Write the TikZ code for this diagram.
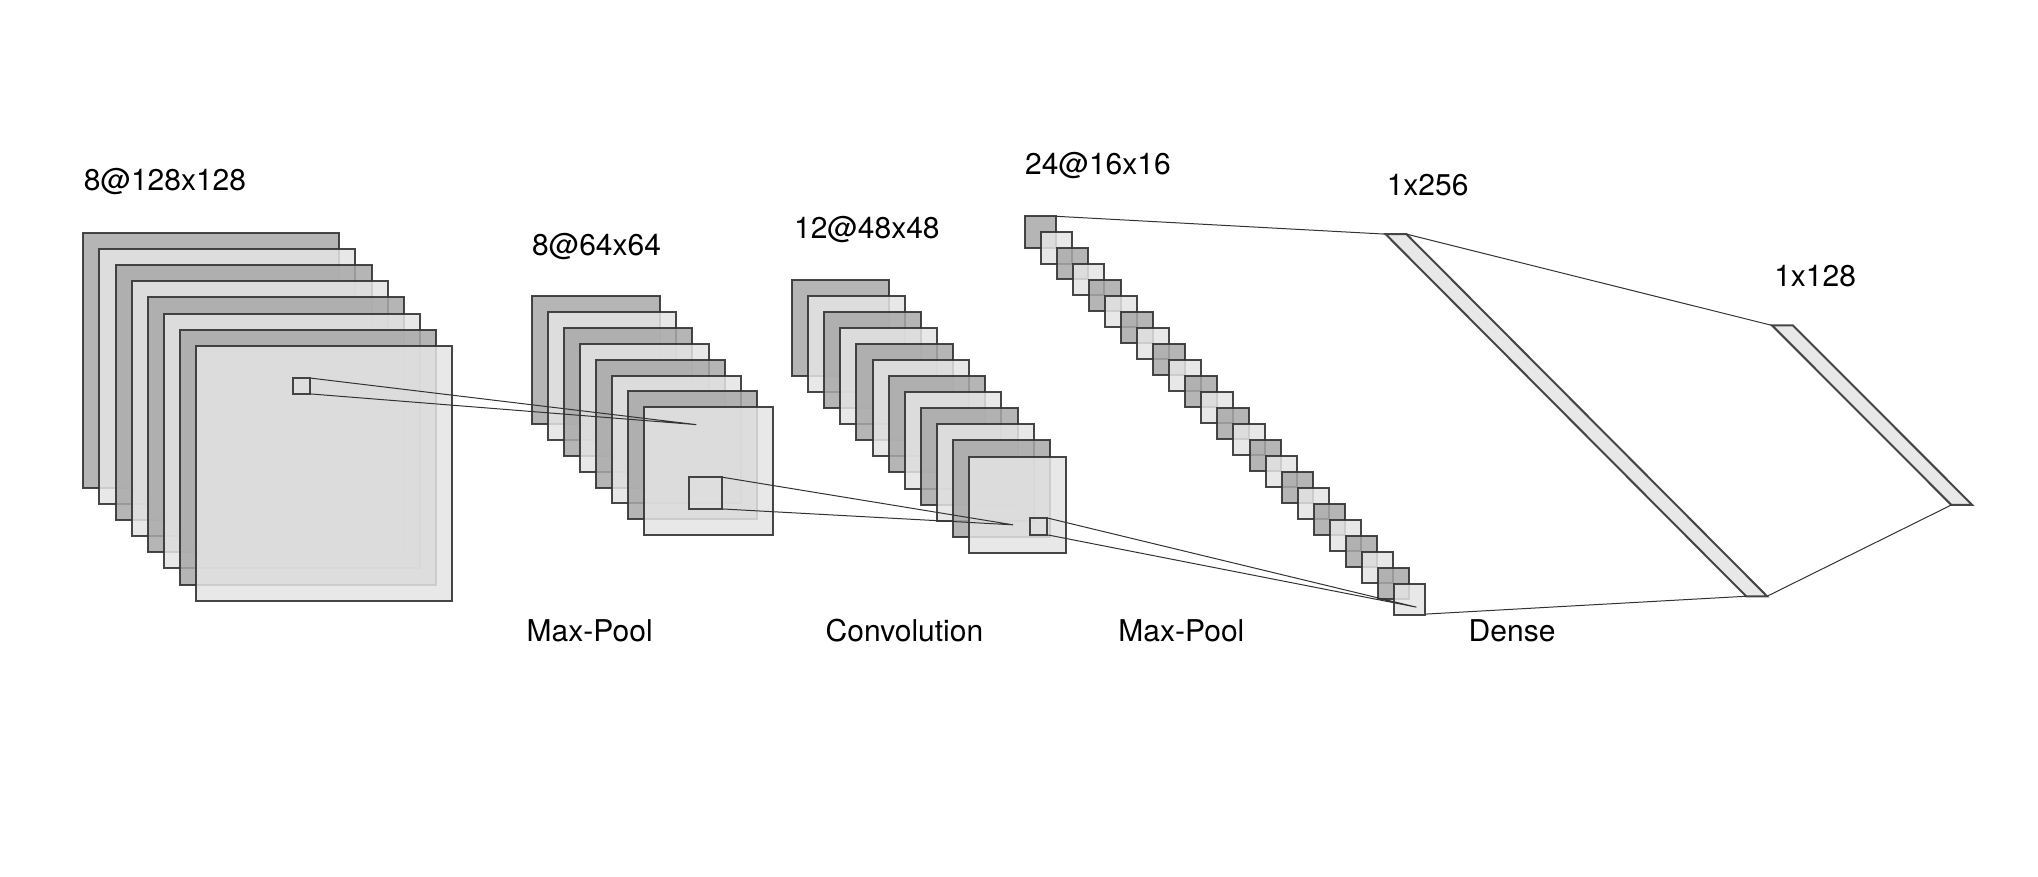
\documentclass[tikz,border=0pt]{standalone}
\usepackage{fontspec}
\setmainfont{TeX Gyre Heros}
\begin{document}
\definecolor{dark}{HTML}{A8A8A8}
\definecolor{lite}{HTML}{E4E4E4}
\definecolor{edge}{HTML}{333333}
\tikzset{
  fmap/.style={draw=edge, line width=2pt, fill opacity=0.85, draw opacity=0.9},
  link/.style={draw=edge, line width=1pt},
  lbl/.style={font=\fontsize{30}{36}\selectfont, inner sep=0pt},
}
\begin{tikzpicture}[x=0.996pt,y=-0.992pt]
\useasboundingbox (0,0) rectangle (2046,883);
% block 1
\foreach \i in {0,...,7}{
  \ifodd\i \def\c{lite}\else\def\c{dark}\fi
  \filldraw[fmap, fill=\c] ({83.6+16.2*\i},{235+16.2*\i}) rectangle ++(257,257);
}
% block 2
\foreach \i in {0,...,7}{
  \ifodd\i \def\c{lite}\else\def\c{dark}\fi
  \filldraw[fmap, fill=\c] ({534+16.1*\i},{298+16.1*\i}) rectangle ++(129,129);
}
% block 3
\foreach \i in {0,...,11}{
  \ifodd\i \def\c{lite}\else\def\c{dark}\fi
  \filldraw[fmap, fill=\c] ({795+16.2*\i},{282+16.2*\i}) rectangle ++(97,97);
}
% block 4
\foreach \i in {0,...,23}{
  \ifodd\i \def\c{lite}\else\def\c{dark}\fi
  \filldraw[fmap, fill=\c] ({1029+16.1*\i},{218+16.1*\i}) rectangle ++(31.5,31.5);
}
% dense layers
\filldraw[fmap, fill=lite] (1391,236) coordinate (d1tl) -- (1412,236) coordinate (d1tr)
  -- (1774,601) coordinate (d1br) -- (1753,601) coordinate (d1bl) -- cycle;
\filldraw[fmap, fill=lite] (1779,328) coordinate (d2tl) -- (1800,328) coordinate (d2tr)
  -- (1980,509) coordinate (d2br) -- (1959,509) coordinate (d2bl) -- cycle;
% receptive field boxes
\draw[fmap, fill=lite, fill opacity=0.3] (294,381) rectangle (311,397);
\draw[fmap, fill=lite, fill opacity=0.3] (692,481) rectangle (725,513);
\draw[fmap, fill=lite, fill opacity=0.3] (1034,522) rectangle (1051,539);
\coordinate (r1a) at (311,381); \coordinate (r1b) at (311,397);
\coordinate (p2) at (699,428);
\coordinate (r2a) at (725,481); \coordinate (r2b) at (725,513);
\coordinate (p3) at (1017,529);
\coordinate (r3a) at (1051,522); \coordinate (r3b) at (1051,539);
\coordinate (p4) at (1422,612);
\coordinate (b4tr) at (1060,218);
\coordinate (b4br) at (1431,619);
\draw[link] (r1a) -- (p2) -- (r1b);
\draw[link] (r2a) -- (p3) -- (r2b);
\draw[link] (r3a) -- (p4) -- (r3b);
\draw[link] (b4tr) -- (d1tl);
\draw[link] (b4br) -- (d1bl);
\draw[link] (d1tr) -- (d2tl);
\draw[link] (d1br) -- (d2bl);
% labels
\node[lbl, anchor=west] (t1) at (84,183) {8@128x128};
\node[lbl, anchor=west] (t2) at (534,248) {8@64x64};
\node[lbl, anchor=west] (t3) at (797,231) {12@48x48};
\node[lbl, anchor=west] (t4) at (1029,167) {24@16x16};
\node[lbl, anchor=west] (t5) at (1392,187) {1x256};
\node[lbl, anchor=west] (t6) at (1781,278) {1x128};
\node[lbl] (o1) at (592,636) {Max-Pool};
\node[lbl] (o2) at (908,636) {Convolution};
\node[lbl] (o3) at (1186,636) {Max-Pool};
\node[lbl] (o4) at (1518,636) {Dense};
\end{tikzpicture}
\end{document}
